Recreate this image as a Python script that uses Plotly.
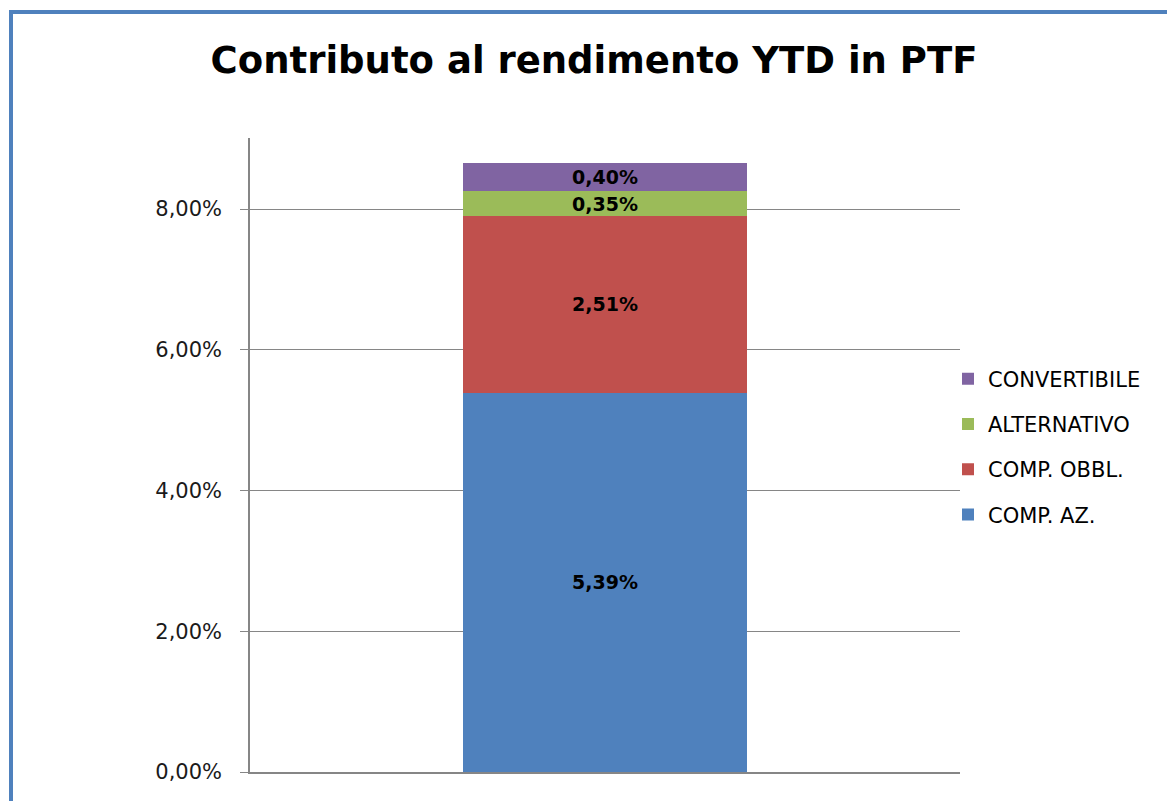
import plotly.graph_objects as go

categories = [""]
series_names = ["COMP. AZ.", "COMP. OBBL.", "ALTERNATIVO", "CONVERTIBILE"]
series_values = [[5.39], [2.51], [0.35], [0.40]]
series_colors = ["#4F81BD", "#C0504D", "#9BBB59", "#8064A2"]
y_ticks = [0, 2, 4, 6, 8]
y_tick_labels = [f"{v:.2f}%".replace(".", ",") for v in y_ticks]

W, H = 1167, 801
ml, mr, mt, mb = 250, 207, 138, 29
pw, ph = W - ml - mr, H - mt - mb

fig = go.Figure()
n = len(series_names)
for i, (name, vals, col) in enumerate(zip(series_names, series_values, series_colors)):
    fig.add_trace(go.Bar(
        x=categories, y=vals, name=name, marker_color=col,
        marker_line_width=0, width=0.4,
        texttemplate="%{y:.2f}%", textposition="inside",
        insidetextanchor="middle", constraintext="none",
        textfont=dict(family="DejaVu Sans", size=19, color="#000000", weight="bold"),
        legendgroup=name, legendrank=n - i,
    ))

def px_x(p):
    return (p - ml) / pw

def px_y(p):
    return (H - mb - p) / ph

fig.update_layout(
    width=W, height=H,
    margin=dict(l=ml, r=mr, t=mt, b=mb),
    barmode="stack",
    separators=",.",
    paper_bgcolor="white", plot_bgcolor="white",
    title=dict(text="<b>Contributo al rendimento YTD in PTF</b>",
               x=px_x(594), xanchor="center", xref="paper",
               y=1 - 60 / H, yanchor="middle",
               font=dict(family="DejaVu Sans", size=37, color="#000000")),
    showlegend=True,
    legend=dict(traceorder="grouped", tracegroupgap=15, itemwidth=30,
                x=px_x(948), xanchor="left", y=px_y(447), yanchor="middle",
                font=dict(family="DejaVu Sans", size=21, color="#000000"),
                bgcolor="rgba(0,0,0,0)", itemclick=False),
    xaxis=dict(showticklabels=False, showline=True, linecolor="#868686",
               linewidth=1.5, ticks="", showgrid=False, zeroline=False,
               range=[-0.5, 0.5]),
    yaxis=dict(range=[0, 9.01], tickvals=y_ticks, ticktext=y_tick_labels,
               showgrid=True, gridcolor="#868686", gridwidth=1,
               showline=True, linecolor="#868686", linewidth=1.5,
               ticks="outside", ticklen=8, tickcolor="#868686", tickwidth=1,
               ticklabelstandoff=14, zeroline=False,
               tickfont=dict(family="DejaVu Sans", size=21, color="#1a1a1a")),
    shapes=[dict(type="rect", xref="paper", yref="paper",
                 x0=px_x(11), x1=px_x(W + 20), y0=px_y(H + 20), y1=px_y(12),
                 line=dict(color="#4F81BD", width=4), fillcolor="rgba(0,0,0,0)",
                 layer="above")],
)

fig.write_html("out.html", config={"displayModeBar": False},
               post_script="document.body.style.margin='0px';document.body.style.padding='0px';")
